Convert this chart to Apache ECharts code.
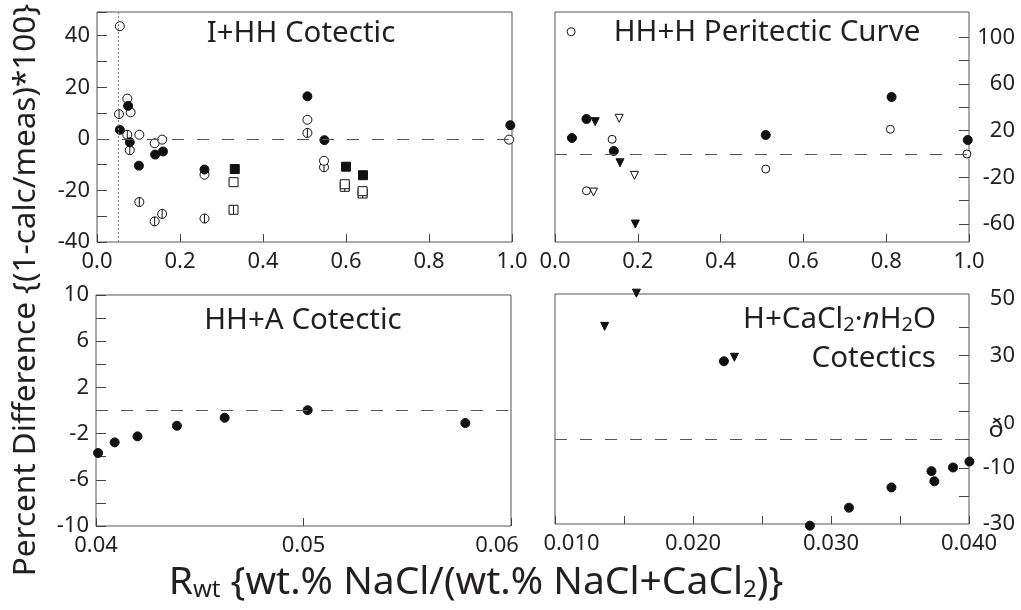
<!DOCTYPE html>
<html><head><meta charset="utf-8">
<script src="https://cdn.jsdelivr.net/npm/echarts@6/dist/echarts.min.js"></script>
<style>html,body{margin:0;padding:0;background:#fff}#c{width:1021px;height:610px}</style>
</head><body><div id="c"></div>
<script>
// ---------- DATA ----------
// Panel 1: I+HH Cotectic
const p1Open     = [[0.055,43.7],[0.073,15.6],[0.081,10.3],[0.102,1.6],[0.139,-1.7],[0.157,-0.3],[0.259,-13.9],[0.507,7.4],[0.547,-8.5],[0.993,-0.3]];
const p1Barred   = [[0.053,9.6],[0.073,1.6],[0.079,-4.4],[0.102,-24.5],[0.139,-32.0],[0.157,-29.1],[0.259,-30.9],[0.507,2.3],[0.547,-11.0]];
const p1Filled   = [[0.055,3.5],[0.075,12.8],[0.079,-1.3],[0.101,-10.4],[0.140,-6.1],[0.159,-4.9],[0.259,-11.9],[0.507,16.5],[0.548,-0.5],[0.996,5.3]];
const p1FilledSq = [[0.332,-11.7],[0.600,-10.8],[0.641,-14.1]];
const p1OpenSq   = [[0.329,-16.8],[0.597,-17.6],[0.640,-20.3]];
const p1BarredSq = [[0.329,-27.5],[0.597,-18.6],[0.640,-21.2]];
const p1Eutectic = 0.0525;
// Panel 2: HH+H Peritectic Curve
const p2Open      = [[0.039,104.8],[0.076,-31.5],[0.138,12.6],[0.509,-12.9],[0.810,21.2],[0.995,0.0]];
const p2Filled    = [[0.041,13.7],[0.076,30.0],[0.142,2.6],[0.509,16.3],[0.813,48.9],[0.997,12.0]];
const p2TriFilled = [[0.097,27.7],[0.157,-7.5],[0.194,-60.0]];
const p2TriOpen   = [[0.155,30.6],[0.093,-32.6],[0.192,-18.3]];
// Panel 3: HH+A Cotectic
const p3Filled = [[0.0401,-3.68],[0.0409,-2.76],[0.0420,-2.24],[0.0439,-1.32],[0.0462,-0.63],[0.0502,0.03],[0.0578,-1.09]];
// Panel 4: H+CaCl2.nH2O Cotectics
const p4TriFilled = [[0.0136,40.3],[0.0159,52.1],[0.0230,29.3]];
const p4Filled    = [[0.02224,27.9],[0.02847,-30.6],[0.0313,-24.2],[0.03438,-17.0],[0.03728,-11.2],[0.03749,-14.8],[0.03884,-9.9],[0.04003,-7.8]];

// Tick / label values
const p2YTicks  = [-60,-40,-20,0,20,40,60,80,100];
const p2YLabels = [-60,-20,20,60,100];
const p4YTicks  = [-20,-10,0,10,20,30,40];
const p4YLabels = [-30,-10,10,30,50];

// Text
const titles = ['I+HH Cotectic','HH+H Peritectic Curve','HH+A Cotectic'];
const yTitle = 'Percent Difference {(1-calc/meas)*100}';

// ---------- STYLE ----------
const FONT = 'Noto Sans';
const TXT = '#231f20';
const BARRED_CIRCLE = 'path://M10,0A10,10,0,1,1,10,20A10,10,0,1,1,10,0ZM10,0L10,20';
const BARRED_SQUARE = 'path://M0,0L20,0L20,20L0,20ZM10,0L10,20';

const grids = [
  {left:97, top:12, width:415, height:230},
  {left:555, top:12, width:414, height:230},
  {left:96, top:295, width:415, height:231},
  {left:555, top:294, width:414, height:230}
].map(g => Object.assign(g, {show:true, borderColor:'#555', borderWidth:1, backgroundColor:'transparent'}));

const xRich = {
  r:{fontSize:22, fontFamily:FONT, color:TXT, padding:[0,28,0,0]},
  l:{fontSize:22, fontFamily:FONT, color:TXT, padding:[0,0,0,33]}
};
const p4Rich = {
  g:{fontSize:25, fontFamily:FONT, color:TXT, verticalAlign:'bottom', padding:[36,0,0,0]},
  s:{fontSize:20, fontFamily:FONT, color:TXT, verticalAlign:'bottom', padding:[0,0,9,0]}
};

function xAx(gi, min, max, interval, fmt, rich){
  const lab = {fontSize:22, fontFamily:FONT, color:TXT, margin:9, formatter:fmt, showMinLabel:true, showMaxLabel:true};
  if (rich) lab.rich = rich;
  return {gridIndex:gi, type:'value', min, max, interval,
    axisLine:{show:false, onZero:false}, splitLine:{show:false},
    axisTick:{show:true, inside:true, length:8, lineStyle:{color:'#444', width:1}},
    axisLabel:lab};
}
function yAxInterval(gi, min, max, interval, fmt){
  return {gridIndex:gi, type:'value', min, max, interval, position:'left',
    axisLine:{show:false, onZero:false}, splitLine:{show:false},
    axisTick:{show:true, inside:true, length:10, lineStyle:{color:'#444', width:1}},
    axisLabel:{fontSize:22, fontFamily:FONT, color:TXT, margin:7, formatter:fmt, showMinLabel:true, showMaxLabel:true}};
}
function yAxRight(gi, min, max, ticks, labels, fmt, rich){
  const lab = {fontSize:22, fontFamily:FONT, color:TXT, customValues:labels, margin:46, align:'right', formatter:fmt};
  if (rich) lab.rich = rich;
  return {gridIndex:gi, type:'value', min, max, position:'right',
    axisLine:{show:false, onZero:false}, splitLine:{show:false},
    axisTick:{show:true, inside:true, length:10, lineStyle:{color:'#444', width:1}, customValues:ticks},
    axisLabel:lab};
}

function sc(gi, data, symbol, size, fill, stroke, extra){
  return Object.assign({type:'scatter', xAxisIndex:gi, yAxisIndex:gi, data, symbol, symbolSize:size,
    clip:false, silent:true, animation:false,
    itemStyle:{color:fill, borderColor:stroke, borderWidth:1, opacity:1}}, extra||{});
}
function zeroLine(extraData){
  return {silent:true, symbol:'none', animation:false, label:{show:false},
    lineStyle:{color:'#555', width:1.2, type:[12,13]},
    data:[{yAxis:0}].concat(extraData||[])};
}

const series = [
  // Panel 1
  sc(0, p1BarredSq, BARRED_SQUARE, 9, '#fff', '#111', {markLine: zeroLine([{xAxis:p1Eutectic, lineStyle:{type:[2,2], color:'#888', width:1}}])}),
  sc(0, p1Barred, BARRED_CIRCLE, 9, '#fff', '#111'),
  sc(0, p1OpenSq, 'rect', 9, '#fff', '#111'),
  sc(0, p1Open, 'circle', 9, '#fff', '#111'),
  sc(0, p1Filled, 'circle', 9, '#111', '#111'),
  sc(0, p1FilledSq, 'rect', 9, '#111', '#111'),
  // Panel 2
  sc(1, p2Open, 'circle', 8, '#fff', '#111', {markLine: zeroLine()}),
  sc(1, p2TriOpen, 'triangle', 8, '#fff', '#111', {symbolRotate:180}),
  sc(1, p2Filled, 'circle', 9, '#111', '#111'),
  sc(1, p2TriFilled, 'triangle', 8, '#111', '#111', {symbolRotate:180}),
  // Panel 3
  sc(2, p3Filled, 'circle', 9, '#111', '#111', {markLine: zeroLine()}),
  // Panel 4
  sc(3, p4TriFilled, 'triangle', 8, '#111', '#111', {symbolRotate:180, markLine: zeroLine()}),
  sc(3, p4Filled, 'circle', 9, '#111', '#111')
];

function txt(x, y, text, size, align, extra){
  return Object.assign({type:'text', x, y, silent:true,
    style:Object.assign({text, fontSize:size, fontFamily:FONT, fill:TXT,
      align:align||'center', verticalAlign:'middle', textAlign:align||'center', textVerticalAlign:'middle'}, (extra&&extra.style)||{})},
    extra && extra.rotation ? {rotation:extra.rotation} : {});
}

const option = {
  animation:false,
  backgroundColor:'#fff',
  grid: grids,
  xAxis: [
    xAx(0, 0, 1, 0.2, v => v.toFixed(1)),
    xAx(1, 0, 1, 0.2, v => v.toFixed(1)),
    xAx(2, 0.04, 0.06, 0.01, v => (Math.abs(v-0.06) < 1e-9 ? '{r|' + v.toFixed(2) + '}' : v.toFixed(2)), xRich),
    xAx(3, 0.01, 0.04, 0.005, v => {
      if (Math.round(v*1000) % 10 !== 0) return '';
      return Math.abs(v-0.01) < 1e-9 ? '{l|' + v.toFixed(3) + '}' : v.toFixed(3);
    }, xRich)
  ],
  yAxis: [
    yAxInterval(0, -40, 49.2, 10, v => (Math.abs(v % 20) < 1e-9 && v <= 40) ? String(v) : ''),
    yAxRight(1, -75.4, 121.7, p2YTicks, p2YLabels, v => String(v)),
    yAxInterval(2, -10, 10, 2, v => (Math.abs((v + 10) % 4) < 1e-9) ? String(v) : ''),
    yAxRight(3, -30, 51.8, p4YTicks, p4YLabels, v => (v === 10 ? '{g|ð}{s|0}' : String(v)), p4Rich)
  ],
  series,
  graphic: [
    txt(301, 34, titles[0], 29.5),
    txt(767, 33, titles[1], 29.5),
    txt(303, 321, titles[2], 29.5),
    txt(936, 320, 'H+CaCl{s|2}·{i|n}H{s|2}O', 29.5, 'right', {style:{rich:{
      s:{fontSize:20, fontFamily:FONT, fill:TXT, verticalAlign:'bottom'},
      i:{fontSize:29.5, fontFamily:FONT, fill:TXT, fontStyle:'italic'}}}}),
    txt(936, 359, 'Cotectics', 29.5, 'right'),
    txt(26, 290, yTitle, 31.5, 'center', {rotation:Math.PI/2}),
    txt(476, 583, 'R{s|wt} {wt.% NaCl/(wt.% NaCl+CaCl{s|2})}', 39, 'center', {style:{rich:{
      s:{fontSize:24, fontFamily:FONT, fill:TXT, verticalAlign:'bottom'}}}})
  ]
};

const chart = echarts.init(document.getElementById('c'), null, {renderer:'canvas', width:1021, height:610});
chart.setOption(option);
</script></body></html>
